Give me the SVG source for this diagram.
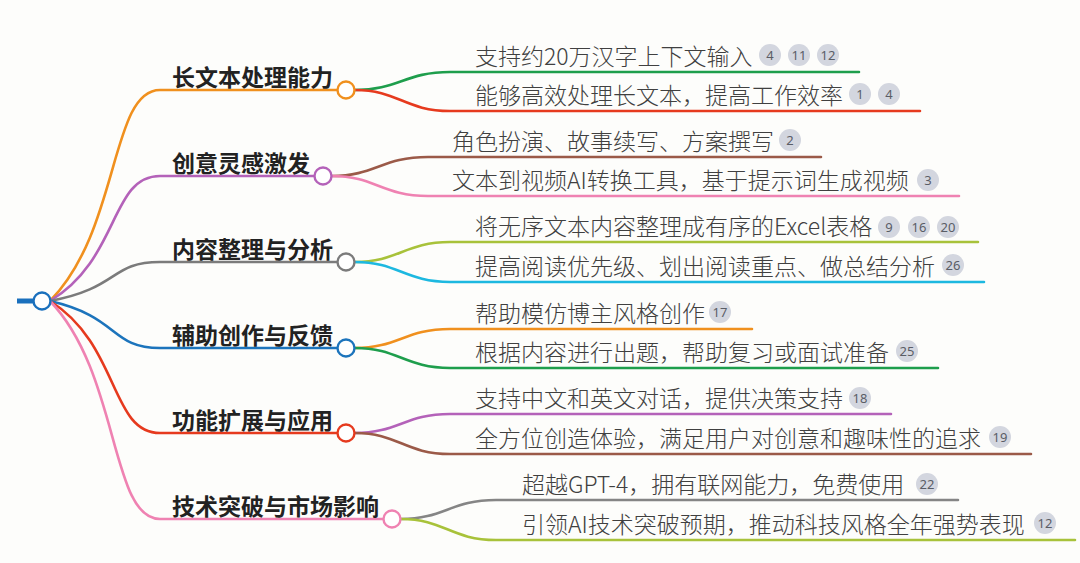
<svg xmlns="http://www.w3.org/2000/svg" width="1080" height="563" viewBox="0 0 1080 563">
<style>
.bg{fill:#fdfdfb}
.ln{fill:none;stroke-width:2.6;stroke-linecap:round}
.nd{fill:#ffffff;stroke-width:2.4}
.mt{font-family:"Noto Sans CJK SC","Noto Sans",sans-serif;font-size:23px;font-weight:bold;fill:#222222}
.lt{font-family:"Noto Sans CJK SC","Noto Sans",sans-serif;font-size:23px;font-weight:300;fill:#404040}
.bd circle{fill:#d3d6df}
.bd text{font-family:"Noto Sans","Liberation Sans",sans-serif;font-size:13px;fill:#5a5d66;text-anchor:middle;dominant-baseline:central}
</style>
<rect class="bg" x="0" y="0" width="1080" height="563"/>
<g id="connectors">
  <line x1="17" y1="301" x2="33" y2="301" stroke="#1a70bd" stroke-width="5"/>
  <path class="ln" stroke="#f0901e" d="M50,301 C120,230 110,90 160,90 L337,90"/>
  <path class="ln" stroke="#b462b9" d="M50,301 C120,259 110,176 160,176 L314,176"/>
  <path class="ln" stroke="#7b7b7b" d="M50,301 C120,288 110,262 160,262 L337,262"/>
  <path class="ln" stroke="#1c74bc" d="M50,301 C120,317 110,348 160,348 L337,348"/>
  <path class="ln" stroke="#e63a1e" d="M50,301 C120,345 110,433 160,433 L337,433"/>
  <path class="ln" stroke="#ef82b2" d="M50,301 C120,374 110,519 160,519 L383,519"/>
  <path class="ln" stroke="#1e9e4c" d="M355,90 C398,90 405,72 450,72 L859,72"/>
  <path class="ln" stroke="#e63a1e" d="M355,90 C398,90 405,111 450,111 L920,111"/>
  <path class="ln" stroke="#9b5a48" d="M332,176 C375,176 382,157 428,157 L821,157"/>
  <path class="ln" stroke="#ef82b2" d="M332,176 C375,176 382,196 428,196 L959,196"/>
  <path class="ln" stroke="#a8c23a" d="M355,262 C398,262 405,242 450,242 L978,242"/>
  <path class="ln" stroke="#1db8e0" d="M355,262 C398,262 405,282 450,282 L984,282"/>
  <path class="ln" stroke="#f0901e" d="M355,348 C398,348 405,329 450,329 L752,329"/>
  <path class="ln" stroke="#1e9e4c" d="M355,348 C398,348 405,368 450,368 L938,368"/>
  <path class="ln" stroke="#b462b9" d="M355,433 C398,433 405,414 450,414 L891,414"/>
  <path class="ln" stroke="#9b5a48" d="M355,433 C398,433 405,454 450,454 L1031,454"/>
  <path class="ln" stroke="#858585" d="M401,519 C444,519 451,500 496,500 L958,500"/>
  <path class="ln" stroke="#a8c23a" d="M401,519 C444,519 451,540 496,540 L1075,540"/>
</g>
<g id="root"><circle class="nd" cx="42" cy="301" r="8.5" stroke="#1a70bd"/></g>
<g id="n1"><text class="mt" x="172" y="86">长文本处理能力</text><circle class="nd" cx="346" cy="90" r="8.5" stroke="#f0901e"/></g>
<g id="n2"><text class="mt" x="172" y="172">创意灵感激发</text><circle class="nd" cx="323" cy="176" r="8.5" stroke="#b462b9"/></g>
<g id="n3"><text class="mt" x="172" y="258">内容整理与分析</text><circle class="nd" cx="346" cy="262" r="8.5" stroke="#7b7b7b"/></g>
<g id="n4"><text class="mt" x="172" y="344">辅助创作与反馈</text><circle class="nd" cx="346" cy="348" r="8.5" stroke="#1c74bc"/></g>
<g id="n5"><text class="mt" x="172" y="429">功能扩展与应用</text><circle class="nd" cx="346" cy="433" r="8.5" stroke="#e63a1e"/></g>
<g id="n6"><text class="mt" x="172" y="515">技术突破与市场影响</text><circle class="nd" cx="392" cy="519" r="8.5" stroke="#ef82b2"/></g>
<g id="l1a"><text class="lt" x="475" y="65">支持约20万汉字上下文输入</text>
  <g class="bd"><circle cx="770" cy="55" r="11"/><text x="770" y="55">4</text><circle cx="799" cy="55" r="11"/><text x="799" y="55">11</text><circle cx="828" cy="55" r="11"/><text x="828" y="55">12</text></g></g>
<g id="l1b"><text class="lt" x="475" y="104">能够高效处理长文本，提高工作效率</text>
  <g class="bd"><circle cx="860" cy="94" r="11"/><text x="860" y="94">1</text><circle cx="889" cy="94" r="11"/><text x="889" y="94">4</text></g></g>
<g id="l2a"><text class="lt" x="452" y="150">角色扮演、故事续写、方案撰写</text>
  <g class="bd"><circle cx="790" cy="140" r="11"/><text x="790" y="140">2</text></g></g>
<g id="l2b"><text class="lt" x="452" y="189">文本到视频AI转换工具，基于提示词生成视频</text>
  <g class="bd"><circle cx="928" cy="180" r="11"/><text x="928" y="180">3</text></g></g>
<g id="l3a"><text class="lt" x="475" y="235">将无序文本内容整理成有序的Excel表格</text>
  <g class="bd"><circle cx="889" cy="227" r="11"/><text x="889" y="227">9</text><circle cx="919" cy="227" r="11"/><text x="919" y="227">16</text><circle cx="948" cy="227" r="11"/><text x="948" y="227">20</text></g></g>
<g id="l3b"><text class="lt" x="475" y="275">提高阅读优先级、划出阅读重点、做总结分析</text>
  <g class="bd"><circle cx="953" cy="265" r="11"/><text x="953" y="265">26</text></g></g>
<g id="l4a"><text class="lt" x="475" y="322">帮助模仿博主风格创作</text>
  <g class="bd"><circle cx="720" cy="312" r="11"/><text x="720" y="312">17</text></g></g>
<g id="l4b"><text class="lt" x="475" y="361">根据内容进行出题，帮助复习或面试准备</text>
  <g class="bd"><circle cx="907" cy="351" r="11"/><text x="907" y="351">25</text></g></g>
<g id="l5a"><text class="lt" x="475" y="407">支持中文和英文对话，提供决策支持</text>
  <g class="bd"><circle cx="860" cy="398" r="11"/><text x="860" y="398">18</text></g></g>
<g id="l5b"><text class="lt" x="475" y="447">全方位创造体验，满足用户对创意和趣味性的追求</text>
  <g class="bd"><circle cx="1000" cy="437" r="11"/><text x="1000" y="437">19</text></g></g>
<g id="l6a"><text class="lt" x="522" y="493">超越GPT-4，拥有联网能力，免费使用</text>
  <g class="bd"><circle cx="927" cy="484" r="11"/><text x="927" y="484">22</text></g></g>
<g id="l6b"><text class="lt" x="522" y="533">引领AI技术突破预期，推动科技风格全年强势表现</text>
  <g class="bd"><circle cx="1045" cy="523" r="11"/><text x="1045" y="523">12</text></g></g>
</svg>
